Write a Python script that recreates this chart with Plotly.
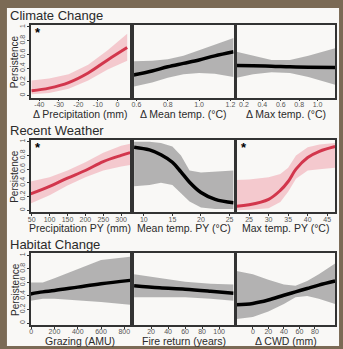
import plotly.graph_objects as go

W, H = 343, 349

# ---------------- data ----------------
# Row 1: Climate Change
precip_x = [-44, -35, -25, -15, -5, 5]
precip_fit = [0.07, 0.11, 0.19, 0.33, 0.52, 0.70]
precip_lo = [0.02, 0.04, 0.10, 0.22, 0.38, 0.51]
precip_hi = [0.22, 0.25, 0.31, 0.45, 0.66, 0.90]

meant_x = [0.58, 0.7, 0.8, 0.9, 1.0, 1.1, 1.22]
meant_fit = [0.30, 0.36, 0.42, 0.47, 0.52, 0.58, 0.64]
meant_lo = [0.13, 0.19, 0.26, 0.31, 0.33, 0.32, 0.27]
meant_hi = [0.50, 0.51, 0.53, 0.58, 0.66, 0.74, 0.84]

maxt_x = [0.12, 0.3, 0.5, 0.7, 0.9, 1.19]
maxt_fit = [0.44, 0.435, 0.43, 0.42, 0.415, 0.41]
maxt_lo = [0.26, 0.31, 0.34, 0.33, 0.27, 0.16]
maxt_hi = [0.64, 0.58, 0.52, 0.52, 0.58, 0.69]

# Row 2: Recent Weather
ppy_x = [47, 100, 150, 200, 250, 300, 325]
ppy_fit = [0.24, 0.35, 0.47, 0.58, 0.71, 0.80, 0.84]
ppy_lo = [0.10, 0.22, 0.36, 0.48, 0.58, 0.64, 0.66]
ppy_hi = [0.42, 0.48, 0.58, 0.70, 0.84, 0.94, 0.97]

mtpy_x = [8.3, 11, 13, 15, 16.5, 18, 20, 22.5, 25.7]
mtpy_fit = [0.92, 0.88, 0.81, 0.70, 0.56, 0.41, 0.26, 0.16, 0.11]
mtpy_lo = [0.35, 0.37, 0.40, 0.37, 0.25, 0.13, 0.04, 0.02, 0.02]
mtpy_hi = [1.0, 1.0, 0.98, 0.93, 0.80, 0.58, 0.55, 0.56, 0.58]

xtpy_x = [21.8, 25, 30, 33, 35, 37, 40, 43, 47]
xtpy_fit = [0.06, 0.08, 0.16, 0.29, 0.42, 0.60, 0.77, 0.86, 0.93]
xtpy_lo = [0.00, 0.01, 0.03, 0.12, 0.27, 0.46, 0.58, 0.60, 0.62]
xtpy_hi = [0.44, 0.45, 0.48, 0.53, 0.62, 0.80, 0.92, 0.96, 0.98]

# Row 3: Habitat Change
graz_x = [-5, 100, 200, 400, 600, 850]
graz_fit = [0.43, 0.46, 0.48, 0.53, 0.58, 0.63]
graz_lo = [0.33, 0.36, 0.36, 0.34, 0.31, 0.27]
graz_hi = [0.60, 0.60, 0.66, 0.80, 0.93, 0.98]

fire_x = [0, 30, 60, 90, 117]
fire_fit = [0.55, 0.52, 0.50, 0.47, 0.44]
fire_lo = [0.38, 0.38, 0.38, 0.36, 0.33]
fire_hi = [0.72, 0.66, 0.61, 0.58, 0.57]

cwd_x = [-21, 0, 20, 40, 55, 70, 85, 106]
cwd_fit = [0.27, 0.29, 0.34, 0.41, 0.46, 0.51, 0.56, 0.62]
cwd_lo = [0.06, 0.09, 0.17, 0.28, 0.38, 0.40, 0.36, 0.28]
cwd_hi = [0.77, 0.72, 0.64, 0.57, 0.55, 0.62, 0.72, 0.88]

section_titles = ["Climate Change", "Recent Weather", "Habitat Change"]
y_ticks = [0, 0.2, 0.4, 0.6, 0.8, 1]
y_ticklabels = ["0", "0.2", "0.4", "0.6", "0.8", "1"]

panels = [
    dict(x=precip_x, fit=precip_fit, lo=precip_lo, hi=precip_hi, sig=True,
         title="Δ Precipitation (mm)", ticks=[-40, -30, -20, -10, 0],
         labels=["-40", "-30", "-20", "-10", "0"], rng=[-44.5, 6.5]),
    dict(x=meant_x, fit=meant_fit, lo=meant_lo, hi=meant_hi, sig=False,
         title="Δ Mean temp. (°C)", ticks=[0.6, 0.8, 1.0, 1.2],
         labels=["0.6", "0.8", "1.0", "1.2"], rng=[0.585, 1.22]),
    dict(x=maxt_x, fit=maxt_fit, lo=maxt_lo, hi=maxt_hi, sig=False,
         title="Δ Max temp. (°C)", ticks=[0.2, 0.4, 0.6, 0.8, 1.0],
         labels=["0.2", "0.4", "0.6", "0.8", "1.0"], rng=[0.12, 1.19]),
    dict(x=ppy_x, fit=ppy_fit, lo=ppy_lo, hi=ppy_hi, sig=True,
         title="Precipitation PY (mm)", ticks=[50, 100, 150, 200, 250, 300],
         labels=["50", "100", "150", "200", "250", "300"], rng=[47, 325]),
    dict(x=mtpy_x, fit=mtpy_fit, lo=mtpy_lo, hi=mtpy_hi, sig=False,
         title="Mean temp. PY (°C)", ticks=[10, 15, 20, 25],
         labels=["10", "15", "20", "25"], rng=[8.3, 25.7]),
    dict(x=xtpy_x, fit=xtpy_fit, lo=xtpy_lo, hi=xtpy_hi, sig=True,
         title="Max temp. PY (°C)", ticks=[25, 30, 35, 40, 45],
         labels=["25", "30", "35", "40", "45"], rng=[21.8, 47]),
    dict(x=graz_x, fit=graz_fit, lo=graz_lo, hi=graz_hi, sig=False,
         title="Grazing (AMU)", ticks=[0, 200, 400, 600, 800],
         labels=["0", "200", "400", "600", "800"], rng=[-5, 850]),
    dict(x=fire_x, fit=fire_fit, lo=fire_lo, hi=fire_hi, sig=False,
         title="Fire return (years)", ticks=[20, 40, 60, 80, 100],
         labels=["20", "40", "60", "80", "100"], rng=[0, 117]),
    dict(x=cwd_x, fit=cwd_fit, lo=cwd_lo, hi=cwd_hi, sig=False,
         title="Δ CWD (mm)", ticks=[0, 20, 40, 60, 80],
         labels=["0", "20", "40", "60", "80"], rng=[-21, 106]),
]

# ---------------- layout geometry (pixels) ----------------
col_px = [(28, 129), (133, 234), (237, 337)]
row_px = [(24, 97), (139, 212), (253, 325)]
title_y_px = [15, 130, 244]
xtitle_y_px = [113, 228, 341]

RED = "#d2364c"
PINK = "rgba(240,170,180,0.6)"
GREY = "rgba(155,155,155,0.75)"
TXT = "#2b2b2b"
FONT = "Liberation Sans, Arial, sans-serif"

fig = go.Figure()
layout = dict(
    width=W, height=H, margin=dict(l=0, r=0, t=0, b=0),
    paper_bgcolor="#7b6a55", plot_bgcolor="white",
    showlegend=False, font=dict(family=FONT, color=TXT),
)
annotations = []
shapes = [dict(type="rect", xref="paper", yref="paper",
               x0=4 / W, x1=341 / W, y0=1 - 346 / H, y1=1 - 7 / H,
               fillcolor="#f9f8f6", line=dict(width=0), layer="below")]

for i, p in enumerate(panels):
    r, c = divmod(i, 3)
    k = i + 1
    xa = "x" if k == 1 else f"x{k}"
    ya = "y" if k == 1 else f"y{k}"
    color = RED if p["sig"] else "black"
    band = PINK if p["sig"] else GREY
    fig.add_trace(go.Scatter(x=p["x"] + p["x"][::-1], y=p["hi"] + p["lo"][::-1],
                             fill="toself", fillcolor=band, line=dict(width=0),
                             mode="lines", hoverinfo="skip", xaxis=xa, yaxis=ya))
    fig.add_trace(go.Scatter(x=p["x"], y=p["fit"], mode="lines",
                             line=dict(color=color, width=3.5 if not p["sig"] else 3,
                                       shape="spline", smoothing=1.0),
                             xaxis=xa, yaxis=ya))
    x0, x1 = col_px[c]
    y0, y1 = row_px[r]
    axcommon = dict(showline=True, mirror=True, linecolor="#333", linewidth=1.5,
                    ticks="outside", ticklen=2, tickwidth=1, tickcolor="#333",
                    showgrid=False, zeroline=False,
                    tickfont=dict(size=7, color="#555", family=FONT))
    layout["xaxis" if k == 1 else f"xaxis{k}"] = dict(
        domain=[x0 / W, x1 / W], range=p["rng"], anchor=ya,
        tickvals=p["ticks"], ticktext=p["labels"], ticklabelstandoff=-3, **axcommon)
    yax = dict(domain=[1 - y1 / H, 1 - y0 / H], range=[-0.03, 1.03], anchor=xa,
               tickvals=y_ticks, ticktext=y_ticklabels, tickangle=-90,
               ticklabelstandoff=-1, **axcommon)
    if c != 0:
        yax["showticklabels"] = False
        yax["ticks"] = ""
    layout["yaxis" if k == 1 else f"yaxis{k}"] = yax
    # x axis title
    annotations.append(dict(text=p["title"], xref="paper", yref="paper",
                            x=(x0 + x1) / 2 / W, y=1 - xtitle_y_px[r] / H,
                            showarrow=False, font=dict(size=10.5, color=TXT),
                            xanchor="center", yanchor="middle", borderpad=0))
    if p["sig"]:
        annotations.append(dict(text="<b>*</b>", xref="paper", yref="paper",
                                x=(x0 + 8) / W, y=1 - (y0 + 8) / H,
                                showarrow=False, font=dict(size=13, color="black"),
                                xanchor="center", yanchor="middle"))
    if c == 0:
        annotations.append(dict(text="Persistence", xref="paper", yref="paper",
                                x=12 / W, y=1 - (y0 + y1) / 2 / H, textangle=-90,
                                showarrow=False, font=dict(size=10, color=TXT),
                                xanchor="center", yanchor="middle", borderpad=0))

for r, t in enumerate(section_titles):
    annotations.append(dict(text=t, xref="paper", yref="paper",
                            x=5 / W, y=1 - title_y_px[r] / H,
                            showarrow=False, font=dict(size=13, color=TXT),
                            xanchor="left", yanchor="middle"))

layout["annotations"] = annotations
layout["shapes"] = shapes
fig.update_layout(**layout)
fig.write_html("out.html", config={"displayModeBar": False},
               post_script="document.body.style.margin='0';document.body.style.overflow='hidden';")
